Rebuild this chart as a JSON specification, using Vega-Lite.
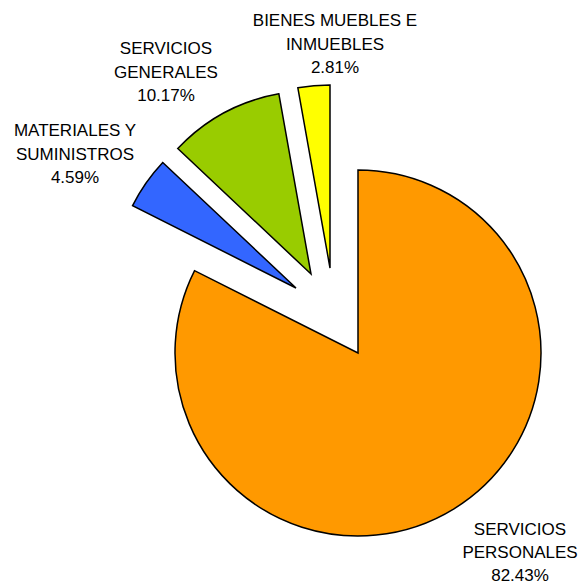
{
  "$schema": "https://vega.github.io/schema/vega-lite/v6.json",
  "width": 446,
  "height": 464,
  "autosize": {"type": "none"},
  "padding": {"left": 135, "top": 121, "right": 0, "bottom": 0},
  "background": "white",
  "config": {"view": {"stroke": null}},
  "data": {
    "values": [
      {"category": "SERVICIOS PERSONALES", "value": 82.43, "label": "SERVICIOS\nPERSONALES\n82.43%"},
      {"category": "MATERIALES Y SUMINISTROS", "value": 4.59, "label": "MATERIALES Y\nSUMINISTROS\n4.59%"},
      {"category": "SERVICIOS GENERALES", "value": 10.17, "label": "SERVICIOS\nGENERALES\n10.17%"},
      {"category": "BIENES MUEBLES E INMUEBLES", "value": 2.81, "label": "BIENES MUEBLES E\nINMUEBLES\n2.81%"}
    ]
  },
  "transform": [{"stack": "value", "groupby": [], "as": ["start", "end"]}],
  "resolve": {"scale": {"theta": "shared", "color": "shared"}},
  "layer": [
    {
      "transform": [{"filter": "datum.category === 'SERVICIOS PERSONALES'"}],
      "mark": {"type": "arc", "outerRadius": 183, "stroke": "black", "strokeWidth": 1.5},
      "encoding": {
        "theta": {"field": "start", "type": "quantitative", "scale": {"domain": [0, 100]}},
        "theta2": {"field": "end"},
        "color": {"field": "category", "type": "nominal", "legend": null,
          "scale": {"domain": ["SERVICIOS PERSONALES", "MATERIALES Y SUMINISTROS", "SERVICIOS GENERALES", "BIENES MUEBLES E INMUEBLES"],
                    "range": ["#FF9900", "#3366FF", "#99CC00", "#FFFF00"]}}
      }
    },
    {
      "transform": [{"filter": "datum.category === 'MATERIALES Y SUMINISTROS'"}],
      "mark": {"type": "arc", "outerRadius": 183, "stroke": "black", "strokeWidth": 1.5, "xOffset": -62, "yOffset": -65},
      "encoding": {
        "theta": {"field": "start", "type": "quantitative", "scale": {"domain": [0, 100]}},
        "theta2": {"field": "end"},
        "color": {"field": "category", "type": "nominal", "legend": null}
      }
    },
    {
      "transform": [{"filter": "datum.category === 'SERVICIOS GENERALES'"}],
      "mark": {"type": "arc", "outerRadius": 183, "stroke": "black", "strokeWidth": 1.5, "xOffset": -47, "yOffset": -79},
      "encoding": {
        "theta": {"field": "start", "type": "quantitative", "scale": {"domain": [0, 100]}},
        "theta2": {"field": "end"},
        "color": {"field": "category", "type": "nominal", "legend": null}
      }
    },
    {
      "transform": [{"filter": "datum.category === 'BIENES MUEBLES E INMUEBLES'"}],
      "mark": {"type": "arc", "outerRadius": 183, "stroke": "black", "strokeWidth": 1.5, "xOffset": -28, "yOffset": -85},
      "encoding": {
        "theta": {"field": "start", "type": "quantitative", "scale": {"domain": [0, 100]}},
        "theta2": {"field": "end"},
        "color": {"field": "category", "type": "nominal", "legend": null}
      }
    },
    {
      "transform": [{"filter": "datum.category === 'SERVICIOS PERSONALES'"}],
      "mark": {"type": "text", "font": "Liberation Sans", "fontSize": 17, "lineHeight": 23, "lineBreak": "\n", "align": "center", "baseline": "alphabetic", "color": "black", "dx": 162, "dy": 182},
      "encoding": {"text": {"field": "label", "type": "nominal"}}
    },
    {
      "transform": [{"filter": "datum.category === 'MATERIALES Y SUMINISTROS'"}],
      "mark": {"type": "text", "font": "Liberation Sans", "fontSize": 17, "lineHeight": 23.5, "lineBreak": "\n", "align": "center", "baseline": "alphabetic", "color": "black", "dx": -283, "dy": -217},
      "encoding": {"text": {"field": "label", "type": "nominal"}}
    },
    {
      "transform": [{"filter": "datum.category === 'SERVICIOS GENERALES'"}],
      "mark": {"type": "text", "font": "Liberation Sans", "fontSize": 17, "lineHeight": 23.5, "lineBreak": "\n", "align": "center", "baseline": "alphabetic", "color": "black", "dx": -192, "dy": -299},
      "encoding": {"text": {"field": "label", "type": "nominal"}}
    },
    {
      "transform": [{"filter": "datum.category === 'BIENES MUEBLES E INMUEBLES'"}],
      "mark": {"type": "text", "font": "Liberation Sans", "fontSize": 17, "lineHeight": 23.5, "lineBreak": "\n", "align": "center", "baseline": "alphabetic", "color": "black", "dx": -23, "dy": -327},
      "encoding": {"text": {"field": "label", "type": "nominal"}}
    }
  ]
}
